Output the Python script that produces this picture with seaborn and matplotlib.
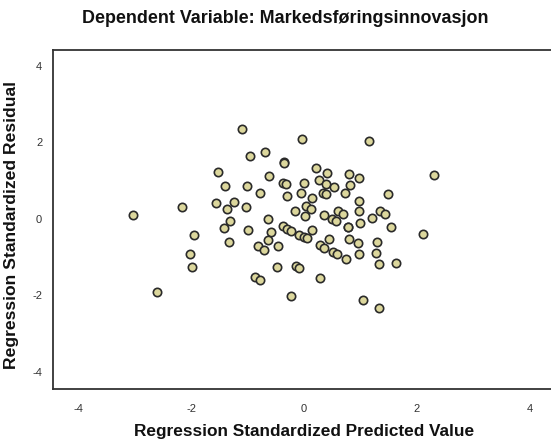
import matplotlib
matplotlib.use("Agg")
import matplotlib.pyplot as plt
import seaborn as sns
import pandas as pd

# Standardized predicted values and standardized residuals
predicted = [
    -1.11, -0.03, -0.96, -0.69, -0.36, -1.53, -0.63, -1.41, -1.01, -0.79,
    -0.37, -0.33, -0.01, -0.31, -0.06, -2.17, -3.04, -1.57, -1.24, -1.37,
    -1.04, -0.64, -0.16, 0.04, 0.02, -1.32, -1.42, -1.00, -0.58, -0.38,
    -0.30, -0.24, -0.09, -0.01, 0.05, -1.95, -1.33, -0.82, -0.72, -0.64,
    -0.47, -2.03, -1.99, -0.48, -0.15, -0.09, -0.88, -0.79, -0.24, -2.61,
    0.21, 0.40, 0.80, 0.97, 0.26, 0.39, 0.53, 0.81, 2.31, 1.15,
    0.34, 0.39, 0.73, 1.49, 0.14, 0.98, 0.13, 0.36, 0.60, 0.69,
    0.50, 0.56, 0.98, 1.34, 1.44, 1.20, 0.99, 0.77, 1.54, 2.11,
    0.14, 0.44, 0.80, 0.95, 1.29, 0.28, 0.36, 0.52, 0.59, 0.75,
    0.97, 1.27, 1.32, 1.63, 0.28, 1.04, 1.33, -0.35, 0.78,
]
residual = [
    2.35, 2.09, 1.65, 1.74, 1.48, 1.23, 1.13, 0.86, 0.85, 0.67,
    0.94, 0.91, 0.94, 0.59, 0.69, 0.31, 0.11, 0.41, 0.45, 0.26,
    0.31, 0.01, 0.20, 0.34, 0.07, -0.05, -0.25, -0.29, -0.34, -0.19,
    -0.26, -0.31, -0.42, -0.46, -0.51, -0.43, -0.61, -0.71, -0.80, -0.56,
    -0.70, -0.93, -1.25, -1.26, -1.22, -1.28, -1.52, -1.59, -2.02, -1.92,
    1.34, 1.20, 1.18, 1.06, 1.03, 0.92, 0.83, 0.89, 1.16, 2.04,
    0.68, 0.64, 0.68, 0.65, 0.55, 0.47, 0.26, 0.10, 0.20, 0.13,
    -0.01, -0.05, 0.20, 0.20, 0.13, 0.03, -0.10, -0.20, -0.22, -0.39,
    -0.30, -0.53, -0.53, -0.62, -0.60, -0.69, -0.76, -0.87, -0.92, -1.05,
    -0.92, -0.88, -1.19, -1.15, -1.55, -2.12, -2.34, 1.47, -0.20,
]
tick_values = [-4, -2, 0, 2, 4]

title_text = "Dependent Variable: Markedsføringsinnovasjon"
x_title = "Regression Standardized Predicted Value"
y_title = "Regression Standardized Residual"

df = pd.DataFrame({"pred": predicted, "resid": residual})

sns.set_style("white")
plt.rcParams["font.family"] = ["Liberation Sans", "DejaVu Sans"]

fig = plt.figure(figsize=(5.51, 4.42), dpi=100)
# the plot frame runs slightly past the right edge of the canvas
ax = fig.add_axes([53.3 / 551, 1 - 389 / 442, (555 - 53.3) / 551, (389 - 50) / 442])

sns.scatterplot(
    data=df, x="pred", y="resid", ax=ax,
    s=36, color="#dcd79c", edgecolor="#2a2a2a", linewidth=1.2, zorder=3,
)

ax.set_xlim(-4.45, 4.45)
ax.set_ylim(-4.45, 4.42)
ax.set_xticks(tick_values)
ax.set_yticks(tick_values)
ax.set_xticklabels([str(v) for v in tick_values])
ax.set_yticklabels([str(v) for v in tick_values])

for side in ["left", "bottom", "top"]:
    ax.spines[side].set_visible(True)
    ax.spines[side].set_color("#333333")
    ax.spines[side].set_linewidth(1.3)
ax.spines["right"].set_visible(False)

ax.tick_params(axis="both", direction="out", length=6, width=1.1,
               color="#333333", labelsize=8, labelcolor="#333333")
ax.tick_params(axis="x", pad=5)
ax.tick_params(axis="y", pad=2)

ax.set_xlabel(x_title, fontsize=12.4, fontweight="bold", color="#111111")
ax.set_ylabel(y_title, fontsize=12.6, fontweight="bold", color="#111111")
ax.xaxis.set_label_coords(0.5, -0.103)
ax.yaxis.set_label_coords(-0.068, 0.485)

fig.text(0.517, 0.959, title_text, ha="center", va="center",
         fontsize=12.9, fontweight="bold", color="#111111")

fig.savefig("out.png", dpi=100)
